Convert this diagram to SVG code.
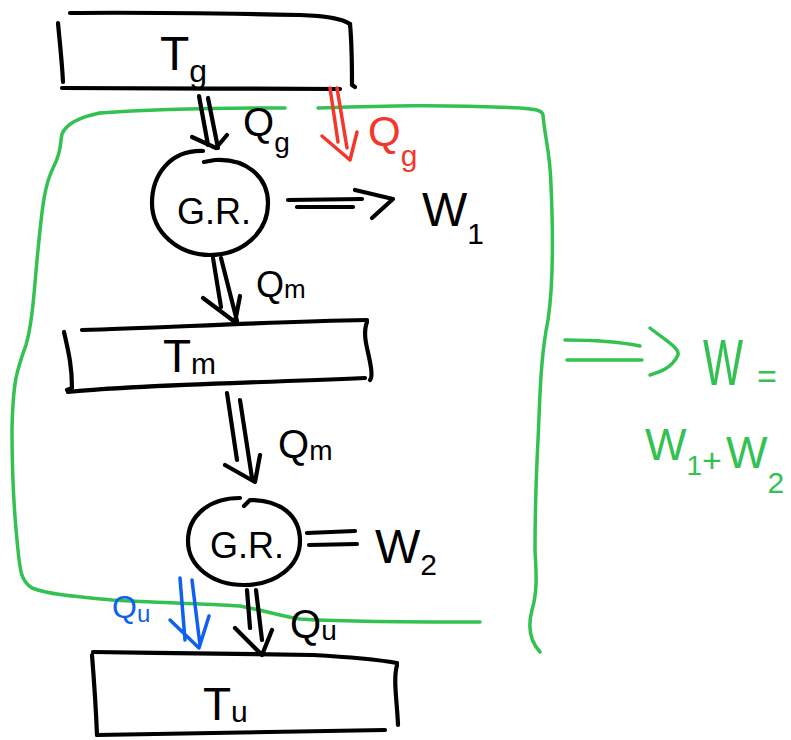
<svg xmlns="http://www.w3.org/2000/svg" width="791" height="740" viewBox="0 0 791 740">
  <style>
    .ink { fill: none; stroke: #000; stroke-width: 4.2; stroke-linecap: round; stroke-linejoin: round; }
    .green { fill: none; stroke: #33c152; stroke-width: 3.5; stroke-linecap: round; stroke-linejoin: round; }
    .red { fill: none; stroke: #f4362c; stroke-width: 3.5; stroke-linecap: round; stroke-linejoin: round; }
    .blue { fill: none; stroke: #1060f0; stroke-width: 3.5; stroke-linecap: round; stroke-linejoin: round; }
    text { font-family: "Liberation Sans", Arial, sans-serif; }
    .t-black { fill: #000; }
    .t-red { fill: #f4362c; }
    .t-blue { fill: #1060f0; }
    .t-green { fill: #33c152; }
  </style>
  <rect width="791" height="740" fill="#fff"/>

  <!-- system boundary -->
  <g id="boundary">
    <path class="green" d="M100,113 C80,117 66,124 62,134 C60,142 62,150 54,166 C44,185 42,210 38,250 C34,290 33,320 26,345 C17,370 13,380 12,430 C12,480 14,510 17,540 C20,570 20,580 32,588 C50,595 80,597 112,600 C160,603 200,603 240,606 C262,610 280,616 300,619 C340,622 400,622 480,622"/>
    <path class="green" d="M100,113 C140,110 200,108 285,108"/>
    <path class="green" d="M318,108 C380,106 440,104 520,108 C535,109 542,110 543,115 C545,140 550,150 551,185 C553,230 554,280 548,320 C540,360 540,400 538,440 C536,480 535,520 535,550 C536,570 538,590 532,610 C528,625 529,640 540,652"/>
  </g>

  <!-- reservoirs -->
  <g id="reservoir-g">
    <path class="ink" d="M70,13 C150,12 250,14 300,15 C330,16 342,19 350,24"/>
    <path class="ink" d="M58,23 C60,45 62,62 63,82"/>
    <path class="ink" d="M62,88 C150,88 250,89 340,89"/>
    <path class="ink" d="M350,24 C352,45 352,65 352,85 L355,87"/>
    <text class="t-black" x="160" y="70" font-size="48">T<tspan font-size="32" dy="12">g</tspan></text>
  </g>

  <g id="reservoir-m">
    <path class="ink" d="M82,330 C160,328 260,322 367,320"/>
    <path class="ink" d="M64,332 C68,350 72,365 72,388 L67,390"/>
    <path class="ink" d="M68,392 C120,386 220,384 365,378"/>
    <path class="ink" d="M367,322 C362,335 368,350 370,362 C372,372 372,378 370,380"/>
    <text class="t-black" x="163" y="372" font-size="46">T<tspan font-size="30" dy="2">m</tspan></text>
  </g>

  <g id="reservoir-u">
    <path class="ink" d="M93,652 C170,653 260,654 313,655 C350,657 380,660 397,663"/>
    <path class="ink" d="M92,655 C94,680 96,710 97,735"/>
    <path class="ink" d="M97,735 C180,734 280,732 385,730"/>
    <path class="ink" d="M397,665 C393,680 397,700 398,725"/>
    <text class="t-black" x="203" y="720" font-size="46">T<tspan font-size="30" dy="2">u</tspan></text>
  </g>

  <!-- engines -->
  <g id="engine-1">
    <path class="ink" d="M203,151 C170,150 152,175 152,203 C152,232 178,255 210,255 C243,255 268,232 268,203 C268,176 245,158 215,160 L204,162"/>
    <text class="t-black" x="214" y="224" font-size="36" text-anchor="middle">G.R.</text>
  </g>

  <g id="engine-2">
    <path class="ink" d="M240,498 C210,498 188,515 188,541 C188,566 212,585 244,585 C276,585 300,566 300,541 C300,515 280,500 250,500 L244,506"/>
    <text class="t-black" x="247" y="558" font-size="36" text-anchor="middle">G.R.</text>
  </g>

  <!-- heat and work flows -->
  <g id="connectors">
    <!-- Qg into engine 1 -->
    <path class="ink" d="M199,96 L208,145 M208,98 L218,148 M192,137 L216,148 L227,135"/>
    <!-- Qg crossing the boundary -->
    <path class="red" d="M330,88 L338,142 M337,88 L347,148 M322,136 L350,160 L357,132"/>
    <!-- W1 out of engine 1 -->
    <path class="ink" d="M288,200 L362,199 M297,207 L353,207 M355,190 L393,199 L372,218"/>
    <!-- Qm from engine 1 to reservoir m -->
    <path class="ink" d="M213,258 L221,307 M221,258 L237,321 M203,298 L235,322 L240,296"/>
    <!-- Qm from reservoir m to engine 2 -->
    <path class="ink" d="M227,393 L237,460 M240,400 L252,478 M225,465 L255,482 L260,455"/>
    <!-- W2 out of engine 2 -->
    <path class="ink" d="M307,533 L355,531 M309,545 L357,544"/>
    <!-- Qu from engine 2 to reservoir u -->
    <path class="ink" d="M247,590 L250,628 M256,590 L262,640 M235,628 L262,655 L272,630"/>
    <!-- Qu crossing the boundary -->
    <path class="blue" d="M180,578 L185,640 M192,580 L200,645 M170,620 L199,648 L209,616"/>
    <!-- total work -->
    <path class="green" d="M565,340 C600,340 620,342 640,346 M567,360 L642,360 M650,328 C665,340 680,348 678,355 C672,368 660,372 650,375"/>
  </g>

  <!-- flow labels -->
  <g id="labels">
    <text class="t-black" x="243" y="136" font-size="40">Q<tspan font-size="28" dy="16">g</tspan></text>
    <text class="t-red" x="368" y="146" font-size="42">Q<tspan font-size="30" dy="20">g</tspan></text>
    <text class="t-black" x="422" y="226" font-size="48">W<tspan font-size="30" dy="18">1</tspan></text>
    <text class="t-black" x="256" y="297" font-size="36">Q<tspan font-size="26" dy="1">m</tspan></text>
    <text class="t-black" x="278" y="458" font-size="40">Q<tspan font-size="28" dy="2">m</tspan></text>
    <text class="t-black" x="375" y="563" font-size="48">W<tspan font-size="30" dy="12">2</tspan></text>
    <text class="t-black" x="290" y="638" font-size="40">Q<tspan font-size="28" dy="2">u</tspan></text>
    <text class="t-blue" x="112" y="618" font-size="32">Q<tspan font-size="24" dy="4">u</tspan></text>
    <text class="t-green" font-size="50" transform="translate(703,385) scale(0.85,1.3)">W</text>
    <text class="t-green" x="757" y="388" font-size="34">=</text>
    <text class="t-green" x="645" y="460" font-size="44">W<tspan font-size="28" dy="15">1</tspan><tspan font-size="34" dy="-3">+</tspan><tspan font-size="44" dx="4" dy="-4">W</tspan><tspan font-size="30" dy="25">2</tspan></text>
  </g>
</svg>
